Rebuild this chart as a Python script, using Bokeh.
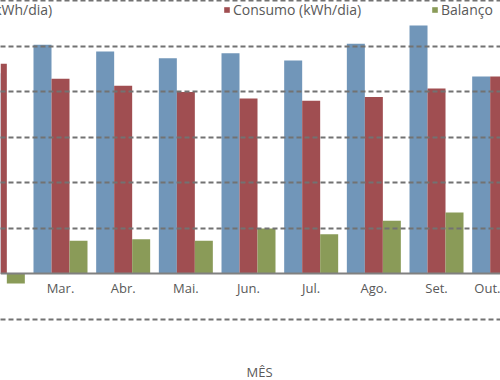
from bokeh.plotting import figure
from bokeh.models import (Range1d, LinearAxis, FixedTicker, Legend, LegendItem,
                          Label, ColumnDataSource, Grid)
from bokeh.transform import dodge
from bokeh.embed import file_html
from bokeh.resources import INLINE

# ---- data (kWh/dia) ----
months = ["Fev.", "Mar.", "Abr.", "Mai.", "Jun.", "Jul.", "Ago.", "Set.", "Out."]
month_pos = [1, 2, 3, 4, 5, 6, 7, 8, 9]
geracao = [4.40, 5.03, 4.88, 4.73, 4.84, 4.68, 5.05, 5.45, 4.33]
consumo = [4.61, 4.28, 4.13, 3.99, 3.85, 3.80, 3.88, 4.07, 4.33]
balanco = [-0.21, 0.73, 0.76, 0.73, 1.00, 0.87, 1.17, 1.35, 0.00]
grid_ticks = [-1, 1, 2, 3, 4, 5, 6]

BLUE = "#7196b9"
RED = "#a04e51"
GREEN = "#8a9b58"
TXT = "#595959"
FONT = "Open Sans"

src = ColumnDataSource(dict(x=month_pos, g=geracao, c=consumo, b=balanco))

W = 0.2872

p = figure(width=500, height=380, output_backend="svg", toolbar_location=None,
           x_range=Range1d(1.0426, 9.021), y_range=Range1d(-2.336, 5.998),
           x_axis_location=None, y_axis_location=None, min_border=0,
           outline_line_color=None, background_fill_color="white",
           border_fill_color="white")
p.xgrid.visible = False
p.ygrid.visible = False

rb = p.vbar(x=dodge("x", -W, range=p.x_range), top="g", width=W, source=src,
            fill_color=BLUE, line_color=None)
rr = p.vbar(x=dodge("x", 0, range=p.x_range), top="c", width=W, source=src,
            fill_color=RED, line_color=None)
rg = p.vbar(x=dodge("x", W, range=p.x_range), top="b", width=W, source=src,
            fill_color=GREEN, line_color=None)

grid = Grid(dimension=1, ticker=FixedTicker(ticks=grid_ticks),
            grid_line_color="#727272", grid_line_width=2, grid_line_dash="5 3",
            level="overlay")
p.add_layout(grid)

xa = LinearAxis(ticker=FixedTicker(ticks=month_pos),
                major_label_overrides={k: m for k, m in zip(month_pos, months)},
                fixed_location=0, major_tick_line_color=None,
                major_tick_out=0, major_tick_in=0,
                minor_tick_line_color=None, axis_line_color="#808080",
                axis_line_width=2, major_label_text_font=FONT,
                major_label_text_font_size="13px",
                major_label_text_color=TXT, major_label_standoff=5)
p.add_layout(xa, "below")


def make_legend(label, rend, x):
    return Legend(items=[LegendItem(label=label, renderers=[rend])],
                  location=(x, 361), orientation="horizontal",
                  padding=0, margin=0, spacing=0, glyph_width=7,
                  glyph_height=7, label_height=14, label_standoff=3,
                  label_text_font=FONT, label_text_font_size="14px",
                  label_text_color=TXT, border_line_alpha=0,
                  background_fill_alpha=0)


p.add_layout(make_legend("Geração (kWh/dia)", rb, -78))
p.add_layout(make_legend("Consumo (kWh/dia)", rr, 223))
p.add_layout(make_legend("Balanço", rg, 431))

p.add_layout(Label(x=259, y=9, x_units="screen", y_units="screen", text="MÊS",
                   text_align="center", text_baseline="alphabetic",
                   text_font=FONT, text_font_size="13px", text_color=TXT))

open("out.html", "w").write(file_html(p, INLINE))
